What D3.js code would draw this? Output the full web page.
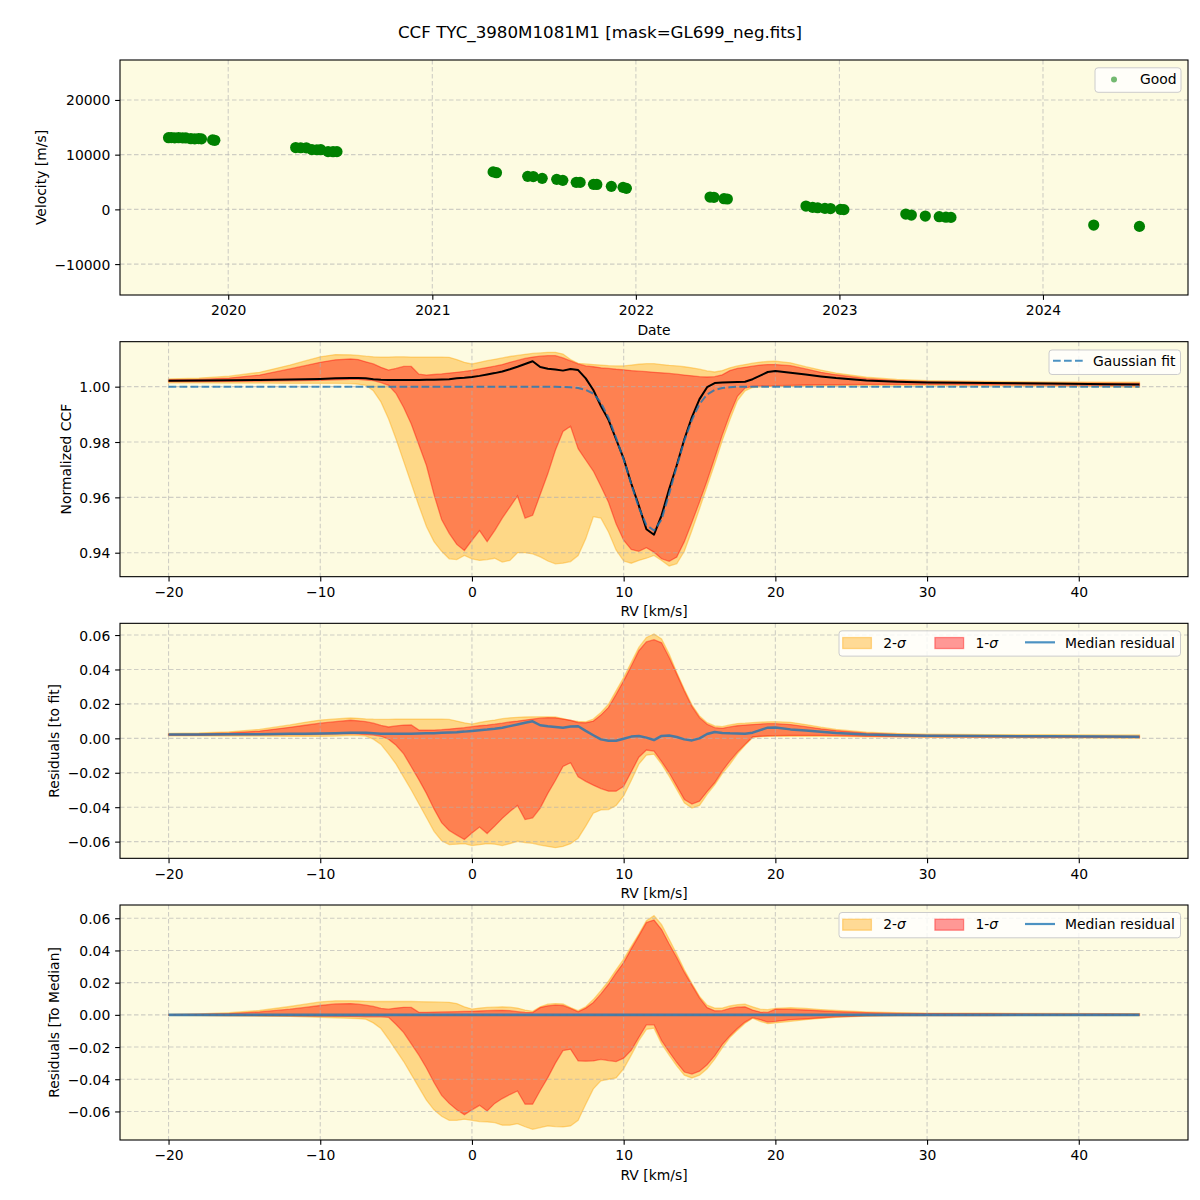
<!DOCTYPE html>
<html><head><meta charset="utf-8">
<script src="https://cdn.jsdelivr.net/npm/d3@7"></script>
<style>body{margin:0;background:#fff}</style>
</head><body>
<script>
// ---------------- DATA ----------------
const title = "CCF TYC_3980M1081M1 [mask=GL699_neg.fits]";

// Panel 1: velocity time series
const obsDates = ["2019-09-16","2019-09-21","2019-09-27","2019-10-04","2019-10-11","2019-10-17","2019-10-26","2019-11-02","2019-11-09","2019-11-14","2019-12-04","2019-12-08",
  "2020-05-01","2020-05-10","2020-05-20","2020-05-30","2020-06-08","2020-06-15","2020-06-28","2020-07-07","2020-07-14",
  "2021-04-20","2021-04-26","2021-06-21","2021-07-01","2021-07-17","2021-08-12","2021-08-23","2021-09-16","2021-09-23","2021-10-17","2021-10-23","2021-11-18","2021-12-09","2021-12-15",
  "2022-05-14","2022-05-21","2022-06-08","2022-06-14","2022-11-02","2022-11-14","2022-11-23","2022-12-06","2022-12-16","2023-01-03","2023-01-09",
  "2023-04-30","2023-05-10","2023-06-04","2023-06-29","2023-07-11","2023-07-20",
  "2024-04-01","2024-06-22"];
const obsVelocity = [13100,13120,13080,13100,13060,13050,12920,12900,12930,12880,12700,12620,
  11300,11260,11250,10920,10900,10910,10560,10540,10550,
  6850,6700,6037,6000,5671,5488,5305,4939,4930,4573,4560,4207,4024,3841,
  2256,2200,1951,1900,610,366,300,183,150,0,-50,
  -854,-1037,-1220,-1341,-1430,-1463,
  -2866,-3110];
const velocityTicks = [-10000, 0, 10000, 20000];
const yearTicks = ["2020","2021","2022","2023","2024"];
const velocityDomain = [-15650, 27300];

// RV grid (km/s) shared by panels 2-4
const rvGrid = [-20,-18,-16,-14,-12,-11,-10,-9,
  -8,-7.5,-7,-6.5,-6,-5.5,-5,-4.5,-4,-3.5,-3,-2.5,-2,-1.5,-1,-0.5,
  0,0.5,1,1.5,2,2.5,3,3.5,4,4.5,5,5.5,6,6.5,7,7.5,
  8,8.5,9,9.5,10,10.5,11,11.5,12,12.5,13,13.5,14,14.5,15,15.5,
  16,16.5,17,17.5,18,18.5,19,19.5,20,
  21,22,23,24,26,28,30,34,38,42,44];
const rvTicks = [-20,-10,0,10,20,30,40];

// Panel 2: normalized CCF
const ccfMedian = [1.0021,1.0022,1.0023,1.0024,1.0026,1.0027,1.0028,1.0030,
  1.0031,1.0031,1.0030,1.0027,1.0025,1.0024,1.0024,1.0024,1.0024,1.0024,1.0025,1.0025,1.0026,1.0027,1.0030,1.0032,
  1.0035,1.0039,1.0044,1.0049,1.0055,1.0063,1.0072,1.0082,1.0092,1.0071,1.0065,1.0062,1.0058,1.0064,1.0060,1.0030,
  0.9988,0.9930,0.9880,0.9810,0.9740,0.9650,0.9570,0.9485,0.9465,0.9535,0.9630,0.9716,0.9810,0.9890,0.9955,0.9998,
  1.0013,1.0015,1.0016,1.0017,1.0018,1.0027,1.0040,1.0053,1.0057,
  1.0050,1.0044,1.0037,1.0031,1.0022,1.0018,1.0015,1.0013,1.0011,1.0009,1.0008];
const gaussFit = [1,1,1,1,1,1,1,1,
  1,1,1,1,1,1,1,1,1,1,1,1,1,1,1,1,
  1,1,1,1,1,1,1,1,1,1,1,1,0.9999,0.9998,0.9995,0.9988,
  0.9975,0.9942,0.9888,0.9815,0.9737,0.9648,0.9563,0.9500,0.9480,0.9520,0.9613,0.9712,0.9805,0.9880,0.9937,0.9972,
  0.9988,0.9995,0.9998,1,1,1,1,1,1,
  1,1,1,1,1,1,1,1,1,1,1];
const ccf2Hi = [1.0028,1.0031,1.0038,1.0052,1.0078,1.0093,1.0108,1.0116,
  1.0115,1.0113,1.0110,1.0108,1.0107,1.0107,1.0108,1.0108,1.0107,1.0107,1.0107,1.0107,1.0107,1.0106,1.0098,1.0088,
  1.0082,1.0088,1.0094,1.0099,1.0104,1.0109,1.0113,1.0117,1.0120,1.0122,1.0124,1.0124,1.0118,1.0098,1.0084,1.0082,
  1.0080,1.0078,1.0076,1.0075,1.0075,1.0078,1.0081,1.0083,1.0083,1.0080,1.0077,1.0075,1.0072,1.0068,1.0063,1.0057,
  1.0053,1.0058,1.0068,1.0075,1.0080,1.0085,1.0089,1.0091,1.0092,
  1.0086,1.0072,1.0060,1.0049,1.0034,1.0026,1.0022,1.0019,1.0017,1.0016,1.0016];
const ccf1Hi = [1.0025,1.0026,1.0031,1.0042,1.0064,1.0076,1.0088,1.0097,
  1.0100,1.0098,1.0090,1.0082,1.0070,1.0060,1.0066,1.0073,1.0073,1.0045,1.0042,1.0044,1.0046,1.0049,1.0052,1.0055,
  1.0059,1.0064,1.0069,1.0074,1.0080,1.0088,1.0095,1.0102,1.0107,1.0110,1.0112,1.0112,1.0104,1.0093,1.0082,1.0075,
  1.0072,1.0068,1.0066,1.0063,1.0061,1.0058,1.0056,1.0054,1.0052,1.0050,1.0048,1.0045,1.0042,1.0039,1.0036,1.0035,
  1.0036,1.0043,1.0058,1.0066,1.0070,1.0074,1.0078,1.0080,1.0080,
  1.0076,1.0064,1.0052,1.0043,1.0029,1.0022,1.0018,1.0015,1.0013,1.0013,1.0012];
const ccf1Lo = [1.0018,1.0018,1.0019,1.0020,1.0021,1.0022,1.0023,1.0025,
  1.0026,1.0026,1.0024,1.0022,1.0015,1.0005,0.9975,0.9925,0.9865,0.9790,0.9715,0.9610,0.9520,0.9470,0.9430,0.9408,
  0.9445,0.9480,0.9440,0.9480,0.9525,0.9565,0.9605,0.9525,0.9535,0.9610,0.9685,0.9770,0.9838,0.9857,0.9776,0.9735,
  0.9695,0.9640,0.9582,0.9505,0.9445,0.9412,0.9405,0.9418,0.9402,0.9378,0.9369,0.9384,0.9440,0.9510,0.9583,0.9660,
  0.9742,0.9825,0.9900,0.9965,0.9995,1.0001,1.0002,1.0003,1.0004,
  1.0005,1.0006,1.0007,1.0007,1.0008,1.0008,1.0008,1.0007,1.0006,1.0004,1.0003];
const ccf2Lo = [1.0014,1.0014,1.0013,1.0013,1.0012,1.0012,1.0012,1.0012,
  1.0011,1.0009,1.0005,0.9985,0.9945,0.9884,0.9810,0.9730,0.9650,0.9570,0.9495,0.9440,0.9405,0.9378,0.9375,0.9390,
  0.9378,0.9372,0.9375,0.9380,0.9366,0.9372,0.9400,0.9400,0.9396,0.9385,0.9370,0.9360,0.9362,0.9368,0.9390,0.9450,
  0.9530,0.9525,0.9475,0.9410,0.9370,0.9362,0.9372,0.9380,0.9390,0.9372,0.9352,0.9360,0.9405,0.9480,0.9559,0.9640,
  0.9720,0.9805,0.9880,0.9950,0.9985,0.9997,0.9999,1.0000,1.0001,
  1.0001,1.0002,1.0003,1.0004,1.0005,1.0005,1.0005,1.0004,1.0002,1.0000,0.9998];
const ccfTicks = [0.94, 0.96, 0.98, 1.00];

// Panel 3: residuals to fit
const resFit = [0.0022,0.0022,0.0023,0.0024,0.0026,0.0027,0.0028,0.0030,
  0.0032,0.0033,0.0033,0.0030,0.0027,0.0026,0.0026,0.0026,0.0027,0.0028,0.0029,0.0030,0.0032,0.0034,0.0036,0.0039,
  0.0043,0.0047,0.0051,0.0056,0.0062,0.0071,0.0080,0.0090,0.0099,0.0076,0.0070,0.0066,0.0062,0.0069,0.0070,0.0043,
  0.0018,-0.0006,-0.0014,-0.0014,-0.0002,0.0010,0.0014,0.0004,-0.0010,0.0014,0.0017,0.0008,-0.0006,-0.0012,0.0000,0.0025,
  0.0037,0.0031,0.0029,0.0028,0.0027,0.0033,0.0048,0.0062,0.0063,
  0.0052,0.0045,0.0038,0.0031,0.0022,0.0018,0.0015,0.0013,0.0012,0.0010,0.0009];
const resFit2Hi = [0.0028,0.0031,0.0038,0.0052,0.0078,0.0093,0.0106,0.0113,
  0.0118,0.0116,0.0113,0.0111,0.0110,0.0110,0.0111,0.0111,0.0111,0.0111,0.0111,0.0111,0.0111,0.0110,0.0100,0.0090,
  0.0083,0.0092,0.0100,0.0106,0.0114,0.0119,0.0122,0.0124,0.0125,0.0125,0.0125,0.0124,0.0115,0.0103,0.0098,0.0096,
  0.0112,0.0150,0.0198,0.0276,0.0353,0.0441,0.0528,0.0586,0.0606,0.0577,0.0490,0.0383,0.0285,0.0195,0.0130,0.0091,
  0.0072,0.0068,0.0078,0.0086,0.0088,0.0091,0.0094,0.0096,0.0097,
  0.0093,0.0080,0.0065,0.0052,0.0036,0.0028,0.0024,0.0022,0.0021,0.0020,0.0020];
const resFit1Hi = [0.0025,0.0026,0.0031,0.0042,0.0064,0.0076,0.0088,0.0097,
  0.0105,0.0102,0.0097,0.0088,0.0075,0.0066,0.0072,0.0077,0.0078,0.0048,0.0047,0.0048,0.0050,0.0054,0.0058,0.0062,
  0.0068,0.0073,0.0077,0.0082,0.0088,0.0095,0.0100,0.0106,0.0112,0.0117,0.0120,0.0119,0.0112,0.0105,0.0092,0.0090,
  0.0100,0.0135,0.0180,0.0255,0.0334,0.0420,0.0509,0.0560,0.0573,0.0555,0.0470,0.0373,0.0275,0.0185,0.0120,0.0082,
  0.0062,0.0058,0.0066,0.0073,0.0077,0.0080,0.0083,0.0085,0.0085,
  0.0080,0.0068,0.0055,0.0045,0.0030,0.0023,0.0019,0.0016,0.0014,0.0013,0.0013];
const resFit1Lo = [0.0018,0.0018,0.0019,0.0020,0.0021,0.0022,0.0023,0.0025,
  0.0027,0.0025,0.0022,0.0019,0.0012,-0.0005,-0.0040,-0.0090,-0.0165,-0.0240,-0.0320,-0.0410,-0.0490,-0.0535,-0.0562,-0.0588,
  -0.0550,-0.0515,-0.0553,-0.0510,-0.0465,-0.0425,-0.0390,-0.0472,-0.0462,-0.0405,-0.0320,-0.0245,-0.0163,-0.0142,-0.0223,-0.0250,
  -0.0272,-0.0292,-0.0307,-0.0307,-0.0278,-0.0195,-0.0110,-0.0068,-0.0074,-0.0135,-0.0200,-0.0278,-0.0355,-0.0382,-0.0365,-0.0310,
  -0.0258,-0.0190,-0.0132,-0.0080,-0.0035,0.0008,0.0012,0.0014,0.0016,
  0.0017,0.0017,0.0017,0.0016,0.0012,0.0010,0.0008,0.0007,0.0006,0.0005,0.0004];
const resFit2Lo = [0.0014,0.0014,0.0013,0.0013,0.0012,0.0012,0.0012,0.0013,
  0.0018,0.0016,0.0013,-0.0005,-0.0035,-0.0090,-0.0150,-0.0225,-0.0300,-0.0380,-0.0460,-0.0540,-0.0595,-0.0617,-0.0615,-0.0612,
  -0.0623,-0.0618,-0.0612,-0.0615,-0.0623,-0.0612,-0.0598,-0.0605,-0.0610,-0.0620,-0.0628,-0.0635,-0.0628,-0.0612,-0.0580,-0.0510,
  -0.0435,-0.0416,-0.0414,-0.0390,-0.0335,-0.0245,-0.0150,-0.0098,-0.0092,-0.0150,-0.0220,-0.0297,-0.0375,-0.0405,-0.0390,-0.0325,
  -0.0270,-0.0205,-0.0151,-0.0090,-0.0040,0.0005,0.0010,0.0011,0.0012,
  0.0012,0.0012,0.0012,0.0011,0.0009,0.0008,0.0006,0.0005,0.0003,0.0001,0.0000];

// Panel 4: residuals to median
const resMed = [0,0,0,0,0,0,0,0,
  0,0,0,0,0,0,0,0,0,0,0,0,0,0,0,0,
  0,0,0,0,0,0,0,0,0,0,0,0,0,0,0,0,
  0,0,0,0,0,0,0,0,0,0,0,0,0,0,0,0,
  0,0,0,0,0,0,0,0,0,
  0,0,0,0,0,0,0,0,0,0,0];
const resMed2Hi = [0.0003,0.0006,0.0013,0.0027,0.0052,0.0066,0.0080,0.0087,
  0.0087,0.0086,0.0084,0.0083,0.0083,0.0083,0.0083,0.0083,0.0083,0.0082,0.0081,0.0080,0.0079,0.0078,0.0070,0.0050,
  0.0036,0.0042,0.0046,0.0048,0.0050,0.0048,0.0042,0.0030,0.0022,0.0050,0.0066,0.0070,0.0068,0.0045,0.0026,0.0050,
  0.0095,0.0150,0.0210,0.0280,0.0346,0.0425,0.0502,0.0585,0.0616,0.0560,0.0470,0.0377,0.0280,0.0195,0.0115,0.0060,
  0.0042,0.0042,0.0055,0.0063,0.0066,0.0050,0.0035,0.0032,0.0040,
  0.0044,0.0040,0.0033,0.0027,0.0018,0.0013,0.0011,0.0010,0.0009,0.0008,0.0008];
const resMed1Hi = [0.0002,0.0004,0.0008,0.0018,0.0035,0.0046,0.0058,0.0068,
  0.0070,0.0066,0.0060,0.0052,0.0040,0.0035,0.0042,0.0047,0.0046,0.0016,0.0016,0.0017,0.0018,0.0019,0.0020,0.0021,
  0.0022,0.0024,0.0026,0.0027,0.0028,0.0026,0.0020,0.0015,0.0014,0.0045,0.0056,0.0060,0.0058,0.0040,0.0019,0.0042,
  0.0077,0.0130,0.0190,0.0260,0.0325,0.0410,0.0491,0.0574,0.0589,0.0530,0.0440,0.0356,0.0265,0.0185,0.0105,0.0045,
  0.0025,0.0026,0.0040,0.0048,0.0050,0.0030,0.0017,0.0015,0.0035,
  0.0034,0.0030,0.0025,0.0020,0.0013,0.0009,0.0008,0.0007,0.0006,0.0006,0.0005];
const resMed1Lo = [-0.0002,-0.0003,-0.0004,-0.0005,-0.0006,-0.0007,-0.0008,-0.0009,
  -0.0010,-0.0011,-0.0012,-0.0012,-0.0012,-0.0015,-0.0060,-0.0110,-0.0180,-0.0250,-0.0330,-0.0420,-0.0500,-0.0550,-0.0590,-0.0620,
  -0.0590,-0.0562,-0.0597,-0.0550,-0.0520,-0.0495,-0.0473,-0.0555,-0.0555,-0.0470,-0.0390,-0.0300,-0.0222,-0.0213,-0.0286,-0.0288,
  -0.0286,-0.0276,-0.0284,-0.0290,-0.0269,-0.0220,-0.0140,-0.0062,-0.0062,-0.0160,-0.0230,-0.0296,-0.0355,-0.0368,-0.0350,-0.0310,
  -0.0255,-0.0185,-0.0131,-0.0085,-0.0045,-0.0017,-0.0030,-0.0045,-0.0041,
  -0.0030,-0.0025,-0.0018,-0.0012,-0.0006,-0.0004,-0.0004,-0.0004,-0.0003,-0.0003,-0.0003];
const resMed2Lo = [-0.0003,-0.0004,-0.0006,-0.0008,-0.0010,-0.0012,-0.0015,-0.0018,
  -0.0021,-0.0024,-0.0027,-0.0050,-0.0085,-0.0150,-0.0220,-0.0290,-0.0370,-0.0450,-0.0530,-0.0590,-0.0630,-0.0655,-0.0655,-0.0648,
  -0.0655,-0.0663,-0.0665,-0.0669,-0.0685,-0.0685,-0.0676,-0.0695,-0.0711,-0.0700,-0.0690,-0.0694,-0.0696,-0.0690,-0.0655,-0.0555,
  -0.0460,-0.0410,-0.0400,-0.0392,-0.0335,-0.0250,-0.0160,-0.0090,-0.0083,-0.0180,-0.0250,-0.0317,-0.0375,-0.0392,-0.0375,-0.0335,
  -0.0275,-0.0205,-0.0141,-0.0095,-0.0052,-0.0021,-0.0040,-0.0055,-0.0050,
  -0.0040,-0.0030,-0.0022,-0.0015,-0.0008,-0.0005,-0.0005,-0.0005,-0.0004,-0.0004,-0.0004];
const residualTicks = [-0.06,-0.04,-0.02,0,0.02,0.04,0.06];

// ---------------- DRAWING ----------------
const FONT = '"DejaVu Sans", Verdana, sans-serif';
const L = 120, R = 1188, H = 235;
const tops = [60, 341.67, 623.33, 905];
const BG = "#fdfbe1";
const TICK = 4.86, PADT = 4.86, FS = 13.9;

const svg = d3.select("body").append("svg")
  .attr("width", 1200).attr("height", 1200)
  .style("font-family", FONT);
svg.append("rect").attr("width", 1200).attr("height", 1200).attr("fill", "#fff");

svg.append("text").attr("x", 600).attr("y", 38).attr("text-anchor", "middle")
  .attr("font-size", 16.7).attr("fill", "#000").text(title);

function padDomain(lo, hi) { const r = hi - lo; return [lo - 0.05 * r, hi + 0.05 * r]; }

function background(top) {
  svg.append("rect").attr("x", L).attr("y", top).attr("width", R - L).attr("height", H).attr("fill", BG);
}
function grid(top, x, y, xt, yt) {
  const g = svg.append("g").attr("stroke", "#b0b0b0").attr("stroke-opacity", 0.6)
    .attr("stroke-width", 1.1).attr("stroke-dasharray", "4.5,2.5");
  xt.forEach(v => g.append("line").attr("x1", x(v)).attr("x2", x(v)).attr("y1", top).attr("y2", top + H));
  yt.forEach(v => g.append("line").attr("x1", L).attr("x2", R).attr("y1", y(v)).attr("y2", y(v)));
}
function frameAndAxes(top, x, y, xt, yt, xf, yf, xLabel, yLabel, yLabelX) {
  svg.append("rect").attr("x", L).attr("y", top).attr("width", R - L).attr("height", H)
    .attr("fill", "none").attr("stroke", "#000").attr("stroke-width", 1.1);
  const ax = svg.append("g").attr("transform", `translate(0,${top + H})`)
    .call(d3.axisBottom(x).tickValues(xt).tickFormat(xf).tickSize(TICK).tickPadding(PADT));
  ax.attr("font-family", FONT).attr("font-size", FS);
  ax.select(".domain").remove();
  ax.selectAll("line").attr("stroke", "#000").attr("stroke-width", 1.1);
  ax.selectAll("text").attr("fill", "#000").attr("dy", "0.76em");
  const ay = svg.append("g").attr("transform", `translate(${L},0)`)
    .call(d3.axisLeft(y).tickValues(yt).tickFormat(yf).tickSize(TICK).tickPadding(PADT));
  ay.attr("font-family", FONT).attr("font-size", FS);
  ay.select(".domain").remove();
  ay.selectAll("line").attr("stroke", "#000").attr("stroke-width", 1.1);
  ay.selectAll("text").attr("fill", "#000").attr("dy", "0.36em");
  svg.append("text").attr("x", (L + R) / 2).attr("y", top + H + 39.5).attr("text-anchor", "middle")
    .attr("font-size", FS).attr("fill", "#000").text(xLabel);
  svg.append("text").attr("transform", `translate(${yLabelX},${top + H / 2}) rotate(-90)`)
    .attr("text-anchor", "middle").attr("dy", "0.35em").attr("font-size", FS).attr("fill", "#000").text(yLabel);
}
function legendBox(x, y, w, h) {
  svg.append("rect").attr("x", x).attr("y", y).attr("width", w).attr("height", h).attr("rx", 3)
    .attr("fill", "#fff").attr("fill-opacity", 0.8).attr("stroke", "#cccccc").attr("stroke-width", 1);
}

// ---- Panel 1 ----
{
  const top = tops[0];
  const parse = d3.timeParse("%Y-%m-%d");
  const dates = obsDates.map(parse);
  const ext = d3.extent(dates);
  const span = ext[1] - ext[0];
  const x = d3.scaleTime().domain([new Date(+ext[0] - 0.05 * span), new Date(+ext[1] + 0.05 * span)]).range([L, R]);
  const y = d3.scaleLinear().domain(velocityDomain).range([top + H, top]);
  const xt = yearTicks.map(s => parse(s + "-01-01"));
  background(top);
  grid(top, x, y, xt, velocityTicks);
  svg.append("g").selectAll("circle").data(dates).join("circle")
    .attr("cx", d => x(d)).attr("cy", (d, i) => y(obsVelocity[i])).attr("r", 5.6).attr("fill", "#008000");
  frameAndAxes(top, x, y, xt, velocityTicks, d3.timeFormat("%Y"), d3.format("d"), "Date", "Velocity [m/s]", 41);
  legendBox(1095, top + 7.8, 86, 24.5);
  svg.append("circle").attr("cx", 1114).attr("cy", top + 19.5).attr("r", 3).attr("fill", "#008000").attr("fill-opacity", 0.55);
  svg.append("text").attr("x", 1140).attr("y", top + 24.3).attr("font-size", FS).attr("fill", "#000").text("Good");
}

// ---- Panels 2-4 ----
const xRV = d3.scaleLinear().domain(padDomain(d3.min(rvGrid), d3.max(rvGrid))).range([L, R]);
const C2 = "#ffa500", C1 = "#ff0000", CB = "#1f77b4";

function band(y, lo, hi, color) {
  const area = d3.area().x((d, i) => xRV(rvGrid[i])).y0((d, i) => y(lo[i])).y1((d, i) => y(hi[i]));
  svg.append("path").attr("d", area(rvGrid)).attr("fill", color).attr("fill-opacity", 0.4)
    .attr("stroke", color).attr("stroke-opacity", 0.4).attr("stroke-width", 1.3);
}
function line(y, vals, color, w, op, dash) {
  const ln = d3.line().x((d, i) => xRV(rvGrid[i])).y((d, i) => y(vals[i]));
  const p = svg.append("path").attr("d", ln(rvGrid)).attr("fill", "none").attr("stroke", color)
    .attr("stroke-width", w).attr("stroke-opacity", op).attr("stroke-linejoin", "round");
  if (dash) p.attr("stroke-dasharray", dash);
}
function sigmaLegend(top) {
  const by = top + 7.5;
  legendBox(839, by, 341.5, 25.3);
  const py = by + 6.7;
  [[842.7, C2, "2-"], [934.9, C1, "1-"]].forEach(([px, c, t]) => {
    svg.append("rect").attr("x", px).attr("y", py).attr("width", 28.7).attr("height", 11)
      .attr("fill", c).attr("fill-opacity", 0.4).attr("stroke", c).attr("stroke-opacity", 0.4).attr("stroke-width", 1.3);
    const tx = svg.append("text").attr("x", px + 40.5).attr("y", by + 16.8).attr("font-size", FS).attr("fill", "#000");
    tx.append("tspan").text(t);
    tx.append("tspan").attr("font-style", "italic").text("σ");
  });
  svg.append("line").attr("x1", 1025).attr("x2", 1055).attr("y1", by + 11.5).attr("y2", by + 11.5)
    .attr("stroke", CB).attr("stroke-opacity", 0.8).attr("stroke-width", 2.2);
  svg.append("text").attr("x", 1065).attr("y", by + 16.8).attr("font-size", FS).attr("fill", "#000").text("Median residual");
}

const rvPanels = [
  { top: tops[1], lo2: ccf2Lo, hi2: ccf2Hi, lo1: ccf1Lo, hi1: ccf1Hi, yt: ccfTicks, yf: d3.format(".2f"),
    yLabel: "Normalized CCF", yLabelX: 66,
    lines: [[ccfMedian, "#000", 2, 1, null], [gaussFit, CB, 2, 0.8, "7.7,3.3"]], legend: "gauss" },
  { top: tops[2], lo2: resFit2Lo, hi2: resFit2Hi, lo1: resFit1Lo, hi1: resFit1Hi, yt: residualTicks, yf: d3.format(".2f"),
    yLabel: "Residuals [to fit]", yLabelX: 54,
    lines: [[resFit, CB, 2.5, 0.8, null]], legend: "sigma" },
  { top: tops[3], lo2: resMed2Lo, hi2: resMed2Hi, lo1: resMed1Lo, hi1: resMed1Hi, yt: residualTicks, yf: d3.format(".2f"),
    yLabel: "Residuals [To Median]", yLabelX: 54,
    lines: [[resMed, CB, 2.8, 0.8, null]], legend: "sigma" }
];

rvPanels.forEach(p => {
  const all = [].concat(p.lo2, p.hi2, p.lo1, p.hi1, ...p.lines.map(l => l[0]));
  const y = d3.scaleLinear().domain(padDomain(d3.min(all), d3.max(all))).range([p.top + H, p.top]);
  background(p.top);
  band(y, p.lo2, p.hi2, C2);
  band(y, p.lo1, p.hi1, C1);
  grid(p.top, xRV, y, rvTicks, p.yt);
  p.lines.forEach(l => line(y, l[0], l[1], l[2], l[3], l[4]));
  frameAndAxes(p.top, xRV, y, rvTicks, p.yt, d3.format("d"), p.yf, "RV [km/s]", p.yLabel, p.yLabelX);
  if (p.legend === "gauss") {
    const by = p.top + 8.3;
    legendBox(1049, by, 131.5, 24.5);
    svg.append("line").attr("x1", 1053).attr("x2", 1083).attr("y1", by + 10.7).attr("y2", by + 10.7)
      .attr("stroke", CB).attr("stroke-opacity", 0.8).attr("stroke-width", 2).attr("stroke-dasharray", "7.7,3.3");
    svg.append("text").attr("x", 1093).attr("y", by + 16).attr("font-size", FS).attr("fill", "#000").text("Gaussian fit");
  } else {
    sigmaLegend(p.top);
  }
});
</script>
</body></html>
